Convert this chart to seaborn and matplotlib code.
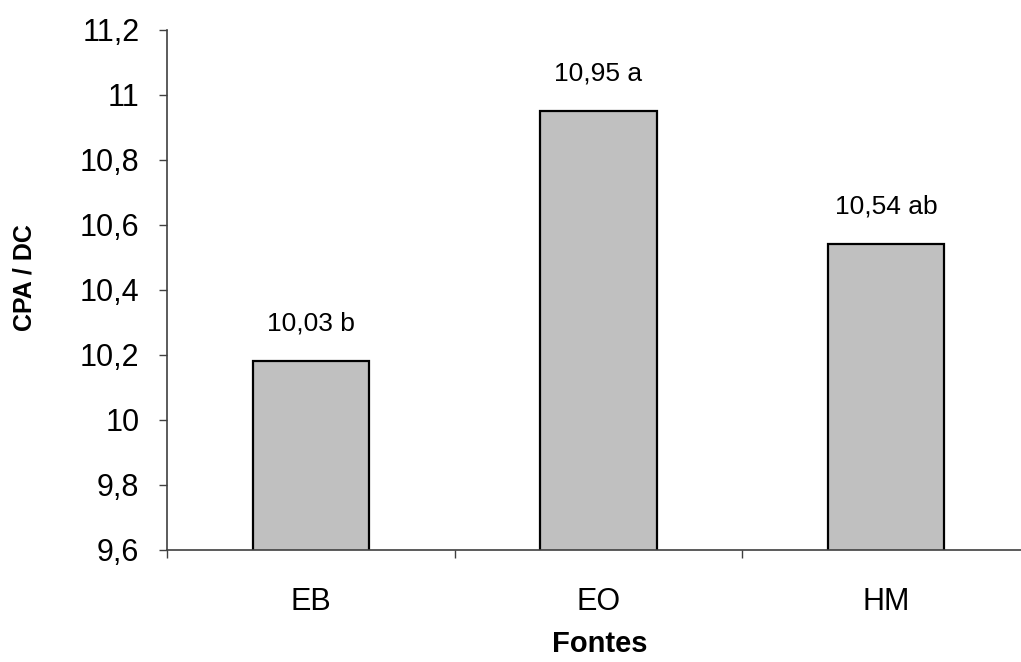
import matplotlib
matplotlib.use("Agg")
import matplotlib.pyplot as plt
import seaborn as sns
import pandas as pd
from matplotlib.ticker import FixedLocator

# data
fontes = ["EB", "EO", "HM"]
cpa_dc = [10.18, 10.95, 10.54]
bar_labels = ["10,03 b", "10,95 a", "10,54 ab"]
y_ticks = [9.6, 9.8, 10.0, 10.2, 10.4, 10.6, 10.8, 11.0, 11.2]
y_tick_labels = ["9,6", "9,8", "10", "10,2", "10,4", "10,6", "10,8", "11", "11,2"]

sns.set_style("white")
plt.rcParams['font.family'] = ['Liberation Sans', 'DejaVu Sans']
plt.rcParams['text.color'] = 'black'
plt.rcParams['xtick.color'] = 'black'
plt.rcParams['ytick.color'] = 'black'

df = pd.DataFrame({"Fontes": fontes, "CPA": cpa_dc})

fig = plt.figure(figsize=(10.21, 6.62), dpi=100)
ax = fig.add_axes([0.1636, 0.1692, 0.8364, 0.7855])

sns.barplot(data=df, x="Fontes", y="CPA", color="#C0C0C0", width=0.405,
            edgecolor="black", linewidth=1.6, saturation=1, ax=ax)

ax.set_ylim(9.6, 11.2)
ax.set_xlim(-0.5, 2.47)

# bar annotations
for i, (v, lab) in enumerate(zip(cpa_dc, bar_labels)):
    ax.annotate(lab, xy=(i, v), xytext=(0, 27), textcoords="offset points",
                ha="center", va="center", fontsize=19, color="black")

ax.set_yticks(y_ticks)
ax.set_yticklabels(y_tick_labels, fontsize=22)
ax.tick_params(axis="y", direction="out", length=6, width=1, color="#404040",
               labelcolor="black", pad=14, left=True)

# category labels without marks, boundary ticks as minor
ax.tick_params(axis="x", which="major", length=0, pad=27, labelsize=22,
               labelcolor="black")
ax.xaxis.set_minor_locator(FixedLocator([-0.5, 0.5, 1.5]))
ax.tick_params(axis="x", which="minor", direction="out", length=6, width=1,
               color="#404040", bottom=True)

for s in ["top", "right"]:
    ax.spines[s].set_visible(False)
for s in ["left", "bottom"]:
    ax.spines[s].set_color("#404040")
    ax.spines[s].set_linewidth(1.2)

ax.set_xlabel("")
ax.set_ylabel("")
# axis titles placed as in the original
fig.text(600 / 1021, 1 - 630 / 662, "Fontes", ha="center", va="top",
         fontsize=21, fontweight="bold", color="black")
fig.text(25 / 1021, 1 - 278 / 662, "CPA / DC", ha="center", va="center",
         rotation=90, fontsize=18, fontweight="bold", color="black")

fig.savefig("out.png", dpi=100)
